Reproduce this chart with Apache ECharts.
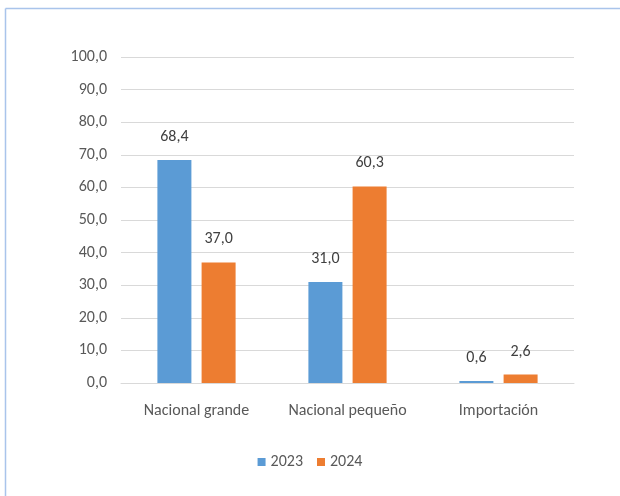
<!DOCTYPE html>
<html><head><meta charset="utf-8">
<script src="https://cdn.jsdelivr.net/npm/echarts@6/dist/echarts.min.js"></script>
<style>html,body{margin:0;padding:0;background:#fff}#c{width:620px;height:496px}</style>
</head><body><div id="c"></div>
<script>
var categories = ['Nacional grande', 'Nacional pequeño', 'Importación'];
var series2023 = [68.4, 31.0, 0.6];
var series2024 = [37.0, 60.3, 2.6];
var seriesNames = ['2023', '2024'];
var FONT = "Carlito, 'Liberation Sans Narrow', 'Noto Sans', sans-serif";
var fmt = function (v) { return Number(v).toFixed(1).replace('.', ','); };
var chart = echarts.init(document.getElementById('c'));
var lbl = {show: true, position: 'top', distance: 15, color: '#404040', fontSize: 16, fontFamily: FONT,
  formatter: function (p) { return fmt(p.value); }};
chart.setOption({
  animation: false,
  textStyle: {fontFamily: FONT},
  grid: {left: 121, right: 46, top: 57, bottom: 113, containLabel: false},
  legend: {bottom: 21, left: 'center', itemWidth: 8, itemHeight: 8, itemGap: 14, icon: 'rect',
    textStyle: {color: '#595959', fontSize: 16, fontFamily: FONT}, data: seriesNames},
  xAxis: {type: 'category', data: categories,
    axisLine: {lineStyle: {color: '#d9d9d9'}}, axisTick: {show: false},
    axisLabel: {color: '#595959', fontSize: 16, fontFamily: FONT, margin: 20, interval: 0, hideOverlap: false}},
  yAxis: {type: 'value', min: 0, max: 100, interval: 10,
    axisLine: {show: false}, axisTick: {show: false},
    splitLine: {lineStyle: {color: '#d9d9d9'}},
    axisLabel: {color: '#595959', fontSize: 16, fontFamily: FONT, margin: 14, formatter: fmt}},
  series: [
    {name: seriesNames[0], type: 'bar', data: series2023, barWidth: 34, barGap: '30%',
      itemStyle: {color: '#5b9bd5'}, label: lbl},
    {name: seriesNames[1], type: 'bar', data: series2024, barWidth: 34,
      itemStyle: {color: '#ed7d31'}, label: lbl}
  ],
  graphic: [
    {type: 'line', shape: {x1: 5.5, y1: 8.5, x2: 620, y2: 8.5}, style: {stroke: '#a9c4eb', lineWidth: 1.5}, silent: true},
    {type: 'line', shape: {x1: 5.5, y1: 8.5, x2: 5.5, y2: 496}, style: {stroke: '#a9c4eb', lineWidth: 1.5}, silent: true}
  ]
});
</script></body></html>
